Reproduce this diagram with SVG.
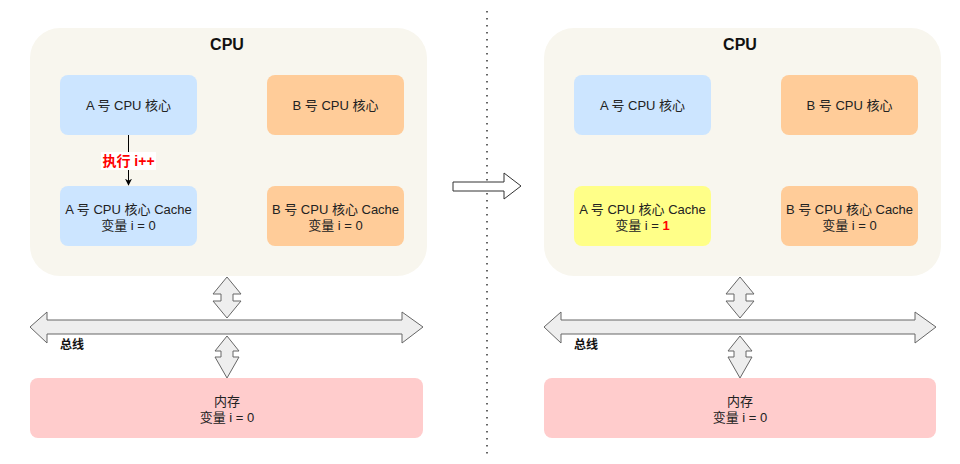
<svg xmlns="http://www.w3.org/2000/svg" width="960" height="464" viewBox="0 0 960 464">
  <defs>
    <style>
      .cpu { fill: #f8f6ee; stroke: none; }
      .blue { fill: #cce5ff; stroke: none; }
      .orange { fill: #ffcc99; stroke: none; }
      .yellow { fill: #ffff88; stroke: none; }
      .mem { fill: #ffcccc; stroke: none; }
      .bus { fill: #eeeeee; stroke: #666666; stroke-width: 1; stroke-linejoin: miter; }
      .t { font-family: "Liberation Sans", "Noto Sans CJK SC", sans-serif; font-size: 13px; fill: #222222; text-anchor: middle; }
      .title { font-family: "Liberation Sans", "Noto Sans CJK SC", sans-serif; font-size: 16px; font-weight: bold; fill: #111111; text-anchor: middle; }
      .lbl { font-family: "Liberation Sans", "Noto Sans CJK SC", sans-serif; font-size: 12px; font-weight: bold; fill: #111111; }
      .red { fill: #ff0000; font-weight: bold; }
      .exec { font-family: "Liberation Sans", "Noto Sans CJK SC", sans-serif; font-size: 14px; font-weight: bold; fill: #ff0000; text-anchor: middle; }
    </style>
    <marker id="ah" viewBox="0 0 10 10" refX="9" refY="5" markerWidth="7" markerHeight="7" orient="auto" markerUnits="userSpaceOnUse">
      <path d="M0,0 L10,5 L0,10 L3,5 Z" fill="#000000"/>
    </marker>
  </defs>
  <rect width="960" height="464" fill="#ffffff"/>

  <!-- Left panel -->
  <g id="cpu-left">
    <rect class="cpu" x="30" y="28" width="397" height="248" rx="30"/>
    <text class="title" x="227" y="50">CPU</text>
  </g>
  <g id="coreA-left">
    <rect class="blue" x="60" y="75" width="137" height="60" rx="8"/>
    <text class="t" x="128.5" y="110">A 号 CPU 核心</text>
  </g>
  <g id="coreB-left">
    <rect class="orange" x="267" y="75" width="137" height="60" rx="8"/>
    <text class="t" x="335.5" y="110">B 号 CPU 核心</text>
  </g>
  <g id="cacheA-left">
    <rect class="blue" x="60" y="186" width="137" height="60" rx="8"/>
    <text class="t" x="128.5" y="214">A 号 CPU 核心 Cache</text>
    <text class="t" x="128.5" y="230">变量 i  = 0</text>
  </g>
  <g id="cacheB-left">
    <rect class="orange" x="267" y="186" width="137" height="60" rx="8"/>
    <text class="t" x="335.5" y="214">B 号 CPU 核心 Cache</text>
    <text class="t" x="335.5" y="230">变量 i  = 0</text>
  </g>
  <g id="mem-left">
    <rect class="mem" x="30" y="378" width="393" height="60" rx="8"/>
    <text class="t" x="227" y="406">内存</text>
    <text class="t" x="227" y="422">变量 i = 0</text>
  </g>
  <g id="bus-left">
    <path class="bus" d="M30,327 L47,312 L47,320 L402,320 L402,312 L423,327 L402,343 L402,334 L47,334 L47,343 Z"/>
    <text class="lbl" x="60" y="349">总线</text>
  </g>

  <!-- Right panel -->
  <g id="cpu-right">
    <rect class="cpu" x="544" y="28" width="397" height="248" rx="30"/>
    <text class="title" x="740" y="50">CPU</text>
  </g>
  <g id="coreA-right">
    <rect class="blue" x="574" y="75" width="137" height="60" rx="8"/>
    <text class="t" x="642.5" y="110">A 号 CPU 核心</text>
  </g>
  <g id="coreB-right">
    <rect class="orange" x="781" y="75" width="137" height="60" rx="8"/>
    <text class="t" x="849.5" y="110">B 号 CPU 核心</text>
  </g>
  <g id="cacheA-right">
    <rect class="yellow" x="574" y="186" width="137" height="60" rx="8"/>
    <text class="t" x="642.5" y="214">A 号 CPU 核心 Cache</text>
    <text class="t" x="642.5" y="230">变量 i  = <tspan class="red">1</tspan></text>
  </g>
  <g id="cacheB-right">
    <rect class="orange" x="781" y="186" width="137" height="60" rx="8"/>
    <text class="t" x="849.5" y="214">B 号 CPU 核心 Cache</text>
    <text class="t" x="849.5" y="230">变量 i  = 0</text>
  </g>
  <g id="mem-right">
    <rect class="mem" x="544" y="378" width="392" height="60" rx="8"/>
    <text class="t" x="740" y="406">内存</text>
    <text class="t" x="740" y="422">变量 i = 0</text>
  </g>
  <g id="bus-right">
    <path class="bus" d="M544,327 L561,312 L561,320 L915,320 L915,312 L936,327 L915,343 L915,334 L561,334 L561,343 Z"/>
    <text class="lbl" x="574" y="349">总线</text>
  </g>

  <!-- Connectors -->
  <g id="connectors">
    <line x1="128.5" y1="135" x2="128.5" y2="185" stroke="#000000" stroke-width="1" marker-end="url(#ah)"/>
    <rect x="101" y="152" width="55" height="18" fill="#ffffff"/>
    <text class="exec" x="128.5" y="166">执行 i++</text>

    <path class="bus" d="M227,277 L241,294 L233,294 L233,301 L241,301 L227,318 L213,301 L221,301 L221,294 L213,294 Z"/>
    <path class="bus" d="M227,336 L239,351 L233,351 L233,357 L239,357 L227,378 L215,357 L221,357 L221,351 L215,351 Z"/>
    <path class="bus" d="M740,277 L754,294 L746,294 L746,301 L754,301 L740,318 L726,301 L734,301 L734,294 L726,294 Z"/>
    <path class="bus" d="M740,336 L752,351 L746,351 L746,357 L752,357 L740,378 L728,357 L734,357 L734,351 L728,351 Z"/>

    <line x1="487" y1="11" x2="487" y2="458" stroke="#333333" stroke-width="1.5" stroke-dasharray="1.5 5.5"/>
    <path d="M453,182 L504,182 L504,173 L521,186 L504,199 L504,191 L453,191 Z" fill="#ffffff" stroke="#333333" stroke-width="1"/>
  </g>
</svg>
